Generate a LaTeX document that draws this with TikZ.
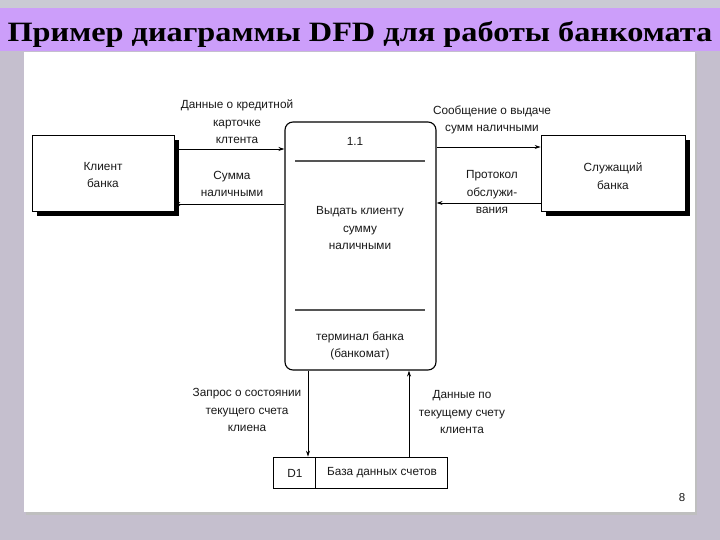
\documentclass[tikz,border=0pt]{standalone}
\usepackage{fontspec}
\setmainfont{Liberation Sans}
\newfontfamily\titlefont{Liberation Serif}
\usetikzlibrary{arrows.meta,shadows}
\definecolor{bgray}{RGB}{197,191,206}
\definecolor{topgray}{RGB}{202,202,212}
\definecolor{barpurple}{RGB}{204,158,250}
\definecolor{divgray}{RGB}{85,85,85}
\definecolor{txt}{RGB}{25,25,25}
\begin{document}
\begin{tikzpicture}[x=1pt,y=-1pt,
  font=\fontsize{11.8}{17.5}\selectfont,
  lbl/.style={align=center, text=txt, inner sep=0pt},
  ent/.style={draw, line width=0.8pt, fill=white, inner sep=0pt,
    drop shadow={shadow xshift=5pt, shadow yshift=-5pt, fill=black, opacity=1}},
  flow/.style={draw, line width=0.8pt, -{Stealth[length=6pt,width=4pt]}}]
\useasboundingbox (0,0) rectangle (720,540);
\fill[bgray] (0,0) rectangle (720,540);
\fill[topgray] (0,0) rectangle (720,8);
\fill[barpurple] (0,8) rectangle (720,51);
\fill[black!25] (26,54) rectangle (697,515);
\fill[white] (24,52) rectangle (695,512);
\node[inner sep=0pt, font=\titlefont\bfseries\fontsize{28}{30}\selectfont] (title) at (360,34) {\scalebox{1.154}[1]{Пример диаграммы DFD для работы банкомата}};

% entities
\node[ent, minimum width=142pt, minimum height=76pt] (client) at (103,173) {};
\node[lbl] (clienttxt) at (103,175) {Клиент\\банка};
\node[ent, minimum width=144pt, minimum height=76pt] (empl) at (613,173) {};
\node[lbl] (empltxt) at (613,176) {Служащий\\банка};

% process
\node[draw, line width=1.1pt, rounded corners=8pt, minimum width=151pt, minimum height=248pt, inner sep=0pt] (proc) at (360.5,246) {};
\draw[divgray, line width=2pt] (295,161) -- (425,161);
\draw[divgray, line width=2pt] (295,310) -- (425,310);
\node[lbl] (pid) at (355,141) {1.1};
\node[lbl] (pname) at (360,228) {Выдать клиенту\\сумму\\наличными};
\node[lbl] (ploc) at (360,346) {терминал банка\\(банкомат)};

% data store
\node[draw, line width=0.8pt, minimum width=174pt, minimum height=31pt, inner sep=0pt] (store) at (360,472.5) {};
\draw[line width=0.8pt] (315,457) -- (315,488);
\node[lbl] (d1) at (295,473) {D1};
\node[lbl] (dbname) at (382,473) {База данных счетов};

% flows
\draw[flow] ([yshift=24pt]client.east) -- ([yshift=24pt]client.east -| proc.west);
\draw[flow] ([yshift=-31pt]client.east -| proc.west) -- ([yshift=-31pt]client.east);
\draw[flow] ([yshift=26pt]empl.west -| proc.east) -- ([yshift=26pt]empl.west);
\draw[flow] ([yshift=-30pt]empl.west) -- ([yshift=-30pt]empl.west -| proc.east);
\draw[flow] ([xshift=-52.5pt]proc.south) -- ([xshift=-52.5pt]proc.south |- store.north);
\draw[flow] ([xshift=48.5pt]proc.south |- store.north) -- ([xshift=48.5pt]proc.south);

% flow labels
\node[lbl] (l1) at (237,122) {Данные о кредитной\\карточке\\клтента};
\node[lbl] (l2) at (232,184) {Сумма\\наличными};
\node[lbl] (l3) at (492,120) {Сообщение о выдаче\\сумм наличными};
\node[lbl] (l4) at (492,192) {Протокол\\обслужи-\\вания};
\node[lbl] (l5) at (247,410) {Запрос о состоянии\\текущего счета\\клиена};
\node[lbl] (l6) at (462,412) {Данные по\\текущему счету\\клиента};

\node[lbl, font=\fontsize{11.5}{13}\selectfont] (pg) at (682,498) {8};
\end{tikzpicture}
\end{document}
